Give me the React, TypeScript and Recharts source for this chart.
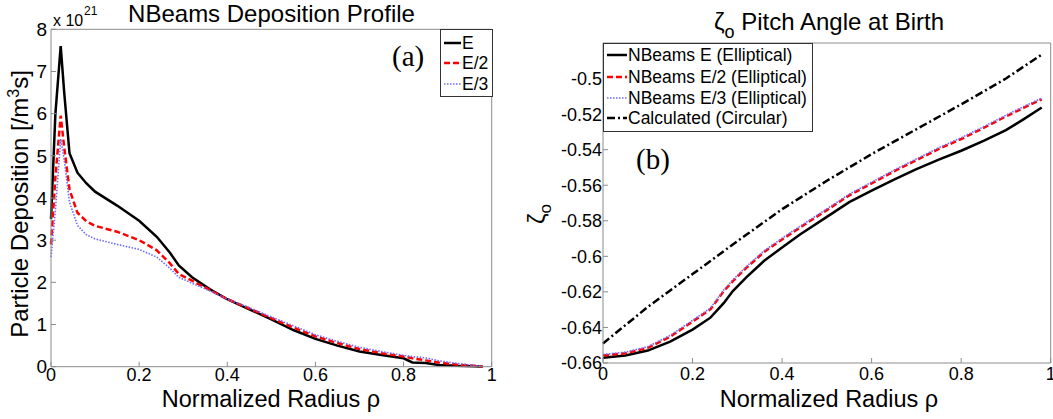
import { LineChart, Line, XAxis, YAxis } from "recharts";

// (a) deposition profile, units of 1e21 /m^3 s
const depRho = [0, 0.01, 0.022, 0.03, 0.042, 0.06, 0.08, 0.1, 0.15, 0.2, 0.24, 0.27, 0.29, 0.32, 0.36, 0.4, 0.45, 0.5, 0.55, 0.6, 0.65, 0.7, 0.75, 0.8, 0.82, 0.85, 0.88, 0.92, 0.96, 0.98];
const depE = [3.5, 6.0, 7.6, 6.5, 5.06, 4.6, 4.35, 4.15, 3.82, 3.46, 3.08, 2.7, 2.4, 2.12, 1.84, 1.6, 1.36, 1.12, 0.87, 0.66, 0.5, 0.36, 0.28, 0.2, 0.1, 0.09, 0.04, 0.02, 0.01, 0];
const depE2 = [2.9, 4.5, 5.95, 5.2, 4.2, 3.65, 3.45, 3.34, 3.2, 3.0, 2.76, 2.45, 2.2, 2.04, 1.82, 1.6, 1.38, 1.15, 0.93, 0.72, 0.56, 0.42, 0.32, 0.24, 0.2, 0.15, 0.1, 0.05, 0.02, 0];
const depE3 = [2.6, 3.7, 5.4, 4.9, 3.9, 3.35, 3.13, 3.03, 2.9, 2.78, 2.6, 2.33, 2.12, 1.98, 1.8, 1.6, 1.4, 1.18, 0.97, 0.76, 0.6, 0.46, 0.36, 0.27, 0.24, 0.21, 0.14, 0.08, 0.03, 0];
const depTicksX = [0, 0.2, 0.4, 0.6, 0.8, 1];
const depTicksY = [0, 1, 2, 3, 4, 5, 6, 7, 8];

// (b) pitch angle at birth
const zetaRho = [0, 0.05, 0.1, 0.15, 0.2, 0.24, 0.27, 0.29, 0.32, 0.36, 0.4, 0.44, 0.5, 0.55, 0.6, 0.65, 0.7, 0.75, 0.8, 0.85, 0.9, 0.94, 0.98];
const zetaE = [-0.657, -0.6558, -0.653, -0.648, -0.6412, -0.6345, -0.6262, -0.6195, -0.6118, -0.6025, -0.595, -0.5877, -0.5778, -0.5695, -0.563, -0.5568, -0.551, -0.5456, -0.5406, -0.535, -0.529, -0.5228, -0.5163];
const zetaE2 = [-0.6558, -0.6545, -0.6515, -0.6452, -0.6367, -0.6298, -0.6195, -0.614, -0.6065, -0.5975, -0.5905, -0.5838, -0.574, -0.5657, -0.559, -0.5522, -0.5459, -0.5396, -0.534, -0.5278, -0.5213, -0.5164, -0.5117];
const zetaE3 = [-0.6552, -0.6539, -0.6508, -0.6445, -0.636, -0.6291, -0.6188, -0.6133, -0.6058, -0.5968, -0.5898, -0.5831, -0.5733, -0.565, -0.5583, -0.5515, -0.5452, -0.5389, -0.5333, -0.5271, -0.5206, -0.5157, -0.511];
const zetaCirc = [-0.649, -0.6387, -0.6285, -0.6192, -0.61, -0.6026, -0.597, -0.5933, -0.5879, -0.5807, -0.5735, -0.5671, -0.5575, -0.55, -0.5425, -0.5355, -0.5285, -0.5215, -0.5145, -0.5073, -0.5, -0.4932, -0.4865];
const zetaTicksX = [0, 0.2, 0.4, 0.6, 0.8, 1];
const zetaTicksY = [-0.66, -0.64, -0.62, -0.6, -0.58, -0.56, -0.54, -0.52, -0.5];

const depData = depRho.map((rho, i) => ({ rho, e: depE[i], e2: depE2[i], e3: depE3[i] }));
const zetaData = zetaRho.map((rho, i) => ({
  rho,
  e: zetaE[i],
  e2: zetaE2[i],
  e3: zetaE3[i],
  circ: zetaCirc[i],
}));

const SANS = '"Liberation Sans", Arial, sans-serif';
const SERIF = '"Liberation Serif", "Times New Roman", serif';
const BOX = "#8c8c8c";

const BLACK = { stroke: "#000", strokeWidth: 2.5 };
const RED = { stroke: "#ff0000", strokeWidth: 2.5, strokeDasharray: "6 3" };
const BLUE = { stroke: "#6a6aff", strokeWidth: 1.6, strokeDasharray: "1.5 1.5" };
const DASHDOT = { stroke: "#000", strokeWidth: 2.5, strokeDasharray: "8 3 2 3" };

const tickFont = (size: number) => ({ fill: "#000", fontSize: size, fontFamily: SANS });

export default function App() {
  return (
    <div style={{ position: "absolute", left: 0, top: 0, width: 1053, height: 419, background: "#fff", overflow: "hidden" }}>
      <div style={{ position: "absolute", left: 0, top: 0 }}>
        <LineChart width={500} height={419} data={depData} margin={{ top: 28.3, right: 7.3, bottom: 51.3, left: 50 }}>
          <XAxis dataKey="rho" type="number" domain={[0, 1]} ticks={depTicksX} interval={0} height={1} tickSize={-5} tickMargin={7} stroke={BOX} tick={tickFont(18)} />
          <XAxis xAxisId="top" orientation="top" dataKey="rho" type="number" domain={[0, 1]} ticks={depTicksX} interval={0} height={1} tickSize={-5} stroke={BOX} tick={false} />
          <YAxis type="number" domain={[0, 8]} ticks={depTicksY} interval={0} width={1} tickSize={-5} tickMargin={9} stroke={BOX} tick={tickFont(19)} />
          <YAxis yAxisId="right" orientation="right" type="number" domain={[0, 8]} ticks={depTicksY} interval={0} width={1} tickSize={-5} stroke={BOX} tick={false} />
          <Line type="linear" dataKey="e" {...BLACK} dot={false} activeDot={false} isAnimationActive={false} />
          <Line type="linear" dataKey="e2" {...RED} dot={false} activeDot={false} isAnimationActive={false} />
          <Line type="linear" dataKey="e3" {...BLUE} dot={false} activeDot={false} isAnimationActive={false} />
        </LineChart>
      </div>
      <div style={{ position: "absolute", left: 520, top: 0 }}>
        <LineChart width={533} height={419} data={zetaData} margin={{ top: 42, right: 1.3, bottom: 55, left: 82 }}>
          <XAxis dataKey="rho" type="number" domain={[0, 1]} ticks={zetaTicksX} interval={0} height={1} tickSize={-5} tickMargin={9} stroke={BOX} tick={tickFont(18)} />
          <XAxis xAxisId="top" orientation="top" dataKey="rho" type="number" domain={[0, 1]} ticks={zetaTicksX} interval={0} height={1} tickSize={-5} stroke={BOX} tick={false} />
          <YAxis type="number" domain={[-0.66, -0.48]} ticks={zetaTicksY} interval={0} width={1} tickSize={-5} tickMargin={6} stroke={BOX} tick={tickFont(18)} />
          <YAxis yAxisId="right" orientation="right" type="number" domain={[-0.66, -0.48]} ticks={zetaTicksY} interval={0} width={1} tickSize={-5} stroke={BOX} tick={false} />
          <Line type="linear" dataKey="e" {...BLACK} dot={false} activeDot={false} isAnimationActive={false} />
          <Line type="linear" dataKey="e2" {...RED} dot={false} activeDot={false} isAnimationActive={false} />
          <Line type="linear" dataKey="e3" {...BLUE} dot={false} activeDot={false} isAnimationActive={false} />
          <Line type="linear" dataKey="circ" {...DASHDOT} dot={false} activeDot={false} isAnimationActive={false} />
        </LineChart>
      </div>

      <svg width={1053} height={419} style={{ position: "absolute", left: 0, top: 0, pointerEvents: "none" }} fontFamily={SANS}>
        {/* panel (a) */}
        <text x={271.5} y={22} textAnchor="middle" fontSize={24}>NBeams Deposition Profile</text>
        <text x={53} y={26} fontSize={16}>x 10</text>
        <text x={84} y={15} fontSize={12}>21</text>
        <text x={392} y={66} fontSize={29} fontFamily={SERIF}>(a)</text>
        <text x={271} y={407} textAnchor="middle" fontSize={23.5}>Normalized Radius ρ</text>
        <text x={28} y={204} textAnchor="middle" fontSize={24} transform="rotate(-90 28 204)">
          Particle Deposition [/m<tspan dy={-9} fontSize={16}>3</tspan><tspan dy={9}>s]</tspan>
        </text>
        <rect x={440.5} y={29.5} width={52} height={67} fill="#fff" stroke="#333" strokeWidth={1} />
        <line x1={444} x2={461} y1={43} y2={43} {...BLACK} />
        <text x={462} y={49} fontSize={17.5}>E</text>
        <line x1={444} x2={461} y1={63} y2={63} {...RED} />
        <text x={462} y={69} fontSize={17.5}>E/2</text>
        <line x1={444} x2={461} y1={84} y2={84} {...BLUE} />
        <text x={462} y={90} fontSize={17.5}>E/3</text>

        {/* panel (b) */}
        <text x={714} y={30} fontSize={24}>
          ζ<tspan dy={8} fontSize={18}>o</tspan><tspan dy={-8}> Pitch Angle at Birth</tspan>
        </text>
        <text x={829} y={407} textAnchor="middle" fontSize={23.5}>Normalized Radius ρ</text>
        <text x={545} y={214} textAnchor="middle" fontSize={24} transform="rotate(-90 545 214)">
          ζ<tspan dy={6} fontSize={17}>o</tspan>
        </text>
        <text x={636} y={169} fontSize={29} fontFamily={SERIF}>(b)</text>
        <rect x={603.5} y={43.5} width={209} height={88} fill="#fff" stroke="#333" strokeWidth={1} />
        <line x1={607} x2={627} y1={55} y2={55} {...BLACK} />
        <text x={628} y={61} fontSize={17.5}>NBeams E (Elliptical)</text>
        <line x1={607} x2={627} y1={77} y2={77} {...RED} />
        <text x={628} y={83} fontSize={17.5}>NBeams E/2 (Elliptical)</text>
        <line x1={607} x2={627} y1={98} y2={98} {...BLUE} />
        <text x={628} y={104} fontSize={17.5}>NBeams E/3 (Elliptical)</text>
        <line x1={607} x2={627} y1={118} y2={118} {...DASHDOT} />
        <text x={628} y={124} fontSize={17.5}>Calculated (Circular)</text>
      </svg>
    </div>
  );
}
